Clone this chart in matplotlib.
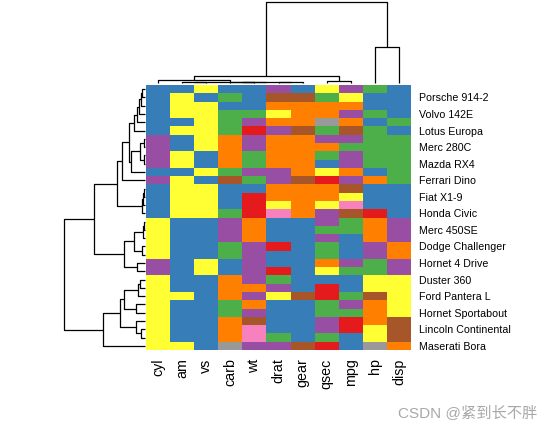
import matplotlib
matplotlib.use("Agg")
import matplotlib.pyplot as plt
from matplotlib.colors import ListedColormap, BoundaryNorm
import numpy as np

# ---------------- data ----------------
columns = ["cyl", "am", "vs", "carb", "wt", "drat", "gear", "qsec", "mpg", "hp", "disp"]

rows = ["Toyota Corona", "Porsche 914-2", "Datsun 710", "Volvo 142E", "Merc 230",
        "Lotus Europa", "Merc 280", "Merc 280C", "Mazda RX4 Wag", "Mazda RX4",
        "Merc 240D", "Ferrari Dino", "Fiat 128", "Fiat X1-9", "Toyota Corolla",
        "Honda Civic", "Merc 450SL", "Merc 450SE", "Merc 450SLC", "Dodge Challenger",
        "AMC Javelin", "Hornet 4 Drive", "Valiant", "Duster 360", "Camaro Z28",
        "Ford Pantera L", "Pontiac Firebird", "Hornet Sportabout", "Chrysler Imperial",
        "Lincoln Continental", "Cadillac Fleetwood", "Maserati Bora"]

# binned (scaled) value level of each cell, 0 (lowest) .. 8 (highest)
levels = [
    [1, 1, 5, 1, 1, 3, 1, 5, 3, 2, 1],
    [1, 5, 1, 2, 1, 6, 6, 2, 5, 1, 1],
    [1, 5, 5, 1, 1, 4, 4, 4, 4, 1, 1],
    [1, 5, 5, 2, 2, 5, 4, 4, 3, 2, 1],
    [1, 1, 5, 2, 3, 4, 4, 8, 4, 1, 2],
    [1, 5, 5, 2, 0, 3, 6, 2, 6, 2, 1],
    [3, 1, 5, 4, 3, 4, 4, 3, 3, 2, 2],
    [3, 1, 5, 4, 3, 4, 4, 4, 2, 2, 2],
    [3, 5, 1, 4, 2, 4, 4, 2, 3, 2, 2],
    [3, 5, 1, 4, 2, 4, 4, 1, 3, 2, 2],
    [1, 1, 5, 2, 3, 3, 4, 5, 4, 1, 2],
    [3, 5, 1, 6, 2, 3, 6, 0, 3, 4, 2],
    [1, 5, 5, 1, 1, 4, 4, 4, 6, 1, 1],
    [1, 5, 5, 1, 0, 4, 4, 4, 5, 1, 1],
    [1, 5, 5, 1, 0, 5, 4, 5, 7, 1, 1],
    [1, 5, 5, 2, 0, 7, 4, 3, 6, 0, 1],
    [5, 1, 1, 3, 4, 1, 1, 3, 2, 4, 3],
    [5, 1, 1, 3, 4, 1, 1, 2, 2, 4, 3],
    [5, 1, 1, 3, 4, 1, 1, 3, 1, 4, 3],
    [5, 1, 1, 2, 3, 0, 1, 2, 1, 3, 4],
    [5, 1, 1, 2, 3, 1, 1, 2, 1, 3, 4],
    [3, 1, 5, 1, 3, 1, 1, 4, 3, 2, 3],
    [3, 1, 5, 1, 3, 0, 1, 5, 2, 2, 3],
    [5, 1, 1, 4, 3, 2, 1, 1, 1, 5, 5],
    [5, 1, 1, 4, 4, 3, 1, 0, 1, 5, 5],
    [5, 5, 1, 4, 3, 5, 6, 0, 2, 6, 5],
    [5, 1, 1, 2, 4, 1, 1, 2, 3, 4, 5],
    [5, 1, 1, 2, 3, 1, 1, 2, 2, 4, 5],
    [5, 1, 1, 4, 6, 1, 1, 3, 0, 4, 6],
    [5, 1, 1, 4, 7, 1, 1, 3, 0, 5, 6],
    [5, 1, 1, 4, 7, 2, 1, 2, 1, 5, 6],
    [5, 5, 1, 8, 3, 3, 6, 0, 1, 8, 4],
]

palette = ["#E41A1C", "#377EB8", "#4DAF4A", "#984EA3", "#FF7F00",
           "#FFFF33", "#A65628", "#F781BF", "#999999"]

# dendrogram merges: (child_a, child_b, height); leaves are 0..n-1, merges n, n+1, ...
row_merges = [
    (0, 1, 2.7), (32, 2, 4.3), (33, 3, 5.7), (34, 4, 7.7), (35, 5, 10.7),    # 32-36
    (6, 7, 1.5), (8, 9, 1.5), (37, 38, 5.0), (39, 10, 14.0), (36, 40, 16.0),  # 37-41
    (41, 11, 22.7), (12, 13, 1.5), (43, 14, 2.5), (44, 15, 3.5),             # 42-45
    (42, 45, 27.7),                                                          # 46
    (16, 17, 0.7), (47, 18, 2.3), (19, 20, 3.3), (48, 49, 11.0),             # 47-50
    (21, 22, 7.7), (50, 51, 21.0), (46, 52, 50.7),                           # 51-53
    (23, 24, 5.0), (54, 25, 7.5), (26, 27, 9.0), (55, 56, 21.0),             # 54-57
    (29, 30, 4.3), (28, 58, 9.0), (57, 59, 25.5), (60, 31, 41.7),            # 58-61
    (53, 61, 81.0),                                                          # 62
]

col_merges = [
    (1, 2, 0.3), (3, 4, 0.5), (5, 6, 0.3), (12, 13, 0.7), (11, 14, 1.0),
    (0, 15, 2.4), (7, 8, 1.4), (16, 17, 6.4), (9, 10, 35.4), (18, 19, 79.4),
]

# ---------------- helpers ----------------
def dendro_segments(merges, n):
    pos = {i: i + 0.5 for i in range(n)}
    hgt = {i: 0.0 for i in range(n)}
    segs = []
    for k, (a, b, h) in enumerate(merges):
        node = n + k
        segs.append(([pos[a], pos[a], pos[b], pos[b]], [hgt[a], h, h, hgt[b]]))
        pos[node] = (pos[a] + pos[b]) / 2.0
        hgt[node] = h
    return segs

W, H = 552, 430
fig = plt.figure(figsize=(W / 100, H / 100), dpi=100)

def axes_px(x0, y0, x1, y1):
    return fig.add_axes([x0 / W, 1 - y1 / H, (x1 - x0) / W, (y1 - y0) / H])

hx0, hy0, hx1, hy1 = 146, 85, 411, 350

# heatmap
ax = axes_px(hx0, hy0, hx1, hy1)
data = np.array(levels)
cmap = ListedColormap(palette)
norm = BoundaryNorm(np.arange(-0.5, 9.5, 1), cmap.N)
ax.pcolormesh(np.arange(len(columns) + 1), np.arange(len(rows) + 1), data,
              cmap=cmap, norm=norm, edgecolors="none", antialiased=False)
ax.set_xlim(0, len(columns))
ax.set_ylim(len(rows), 0)
for s in ax.spines.values():
    s.set_visible(False)
ax.set_xticks(np.arange(len(columns)) + 0.5)
ax.set_xticklabels(columns, rotation=90, fontsize=10.3, family="Liberation Sans")
show = list(range(1, len(rows), 2))
ax.yaxis.tick_right()
ax.set_yticks(np.array(show) + 0.5)
ax.set_yticklabels([rows[i] for i in show], fontsize=7.7, family="Liberation Sans")
ax.tick_params(axis="both", length=0)
ax.tick_params(axis="x", pad=6)
ax.tick_params(axis="y", pad=6)

# row dendrogram (left)
axl = axes_px(50, hy0, hx0, hy1)
for xs, ys in dendro_segments(row_merges, len(rows)):
    axl.plot(ys, xs, color="black", lw=0.9, solid_capstyle="butt")
axl.set_xlim(95, -1)
axl.set_ylim(len(rows), 0)
axl.axis("off")

# column dendrogram (top)
axt = axes_px(hx0, 0, hx1, hy0)
for xs, ys in dendro_segments(col_merges, len(columns)):
    axt.plot(xs, ys, color="black", lw=0.9, solid_capstyle="butt")
axt.set_xlim(0, len(columns))
axt.set_ylim(-2.3, 81.7)
axt.axis("off")

fig.text(537 / W, 1 - 413 / H, "CSDN @紧到长不胖", ha="right", va="center",
         fontsize=11, color="#a8a8a8", family=["Liberation Sans", "Noto Sans CJK SC"])

fig.savefig("out.png", dpi=100)
